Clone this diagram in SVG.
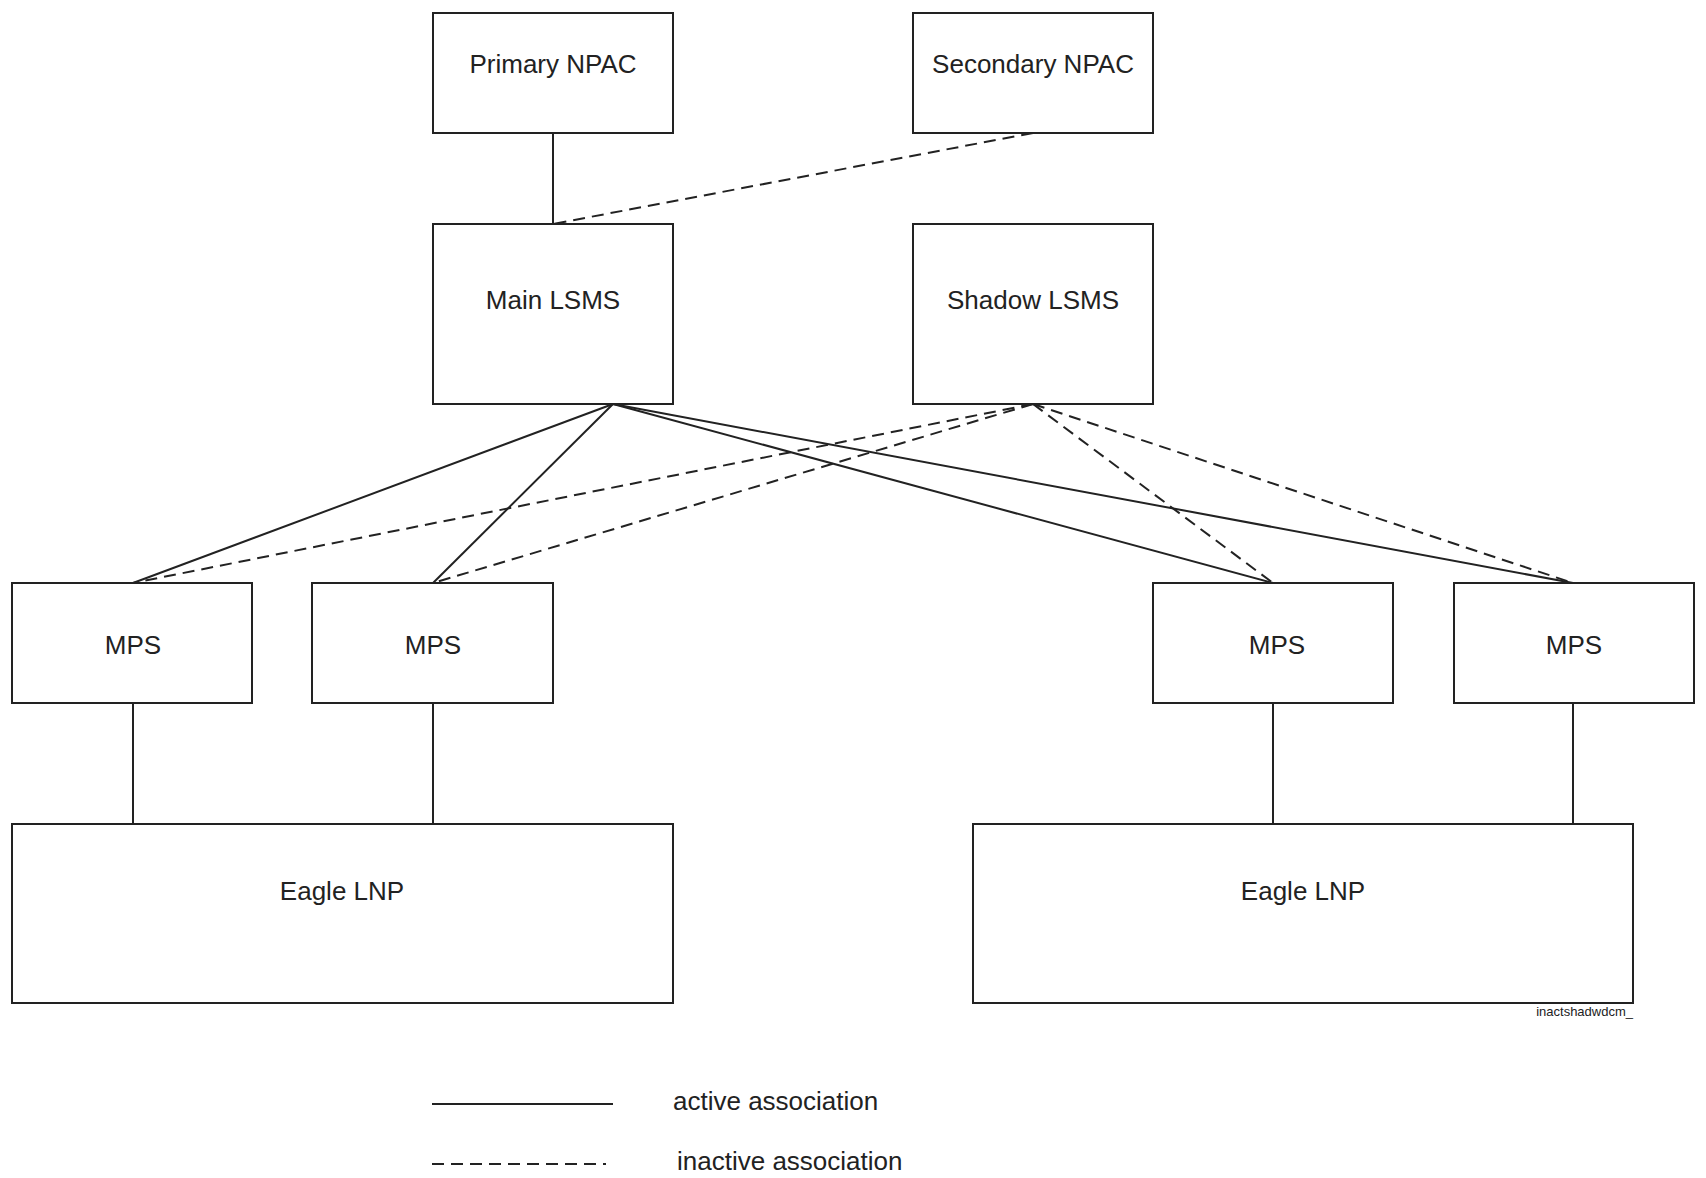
<svg xmlns="http://www.w3.org/2000/svg" width="1706" height="1178" viewBox="0 0 1706 1178">
<style>
rect{fill:#fff;stroke:#222;stroke-width:2}
text{font-family:"Liberation Sans",Arial,sans-serif;font-size:26px;fill:#222;text-anchor:middle;dominant-baseline:central}
.a{stroke:#222;stroke-width:2;fill:none}
.i{stroke:#222;stroke-width:2;fill:none;stroke-dasharray:12,7}
</style>
<rect width="1706" height="1178" style="fill:#fff;stroke:none"/>
<g id="connectors">
<line class="a" x1="553" y1="133" x2="553" y2="224"/>
<line class="i" x1="1033" y1="133" x2="553" y2="224"/>
<line class="a" x1="613" y1="404" x2="133" y2="583"/>
<line class="a" x1="613" y1="404" x2="433" y2="583"/>
<line class="a" x1="613" y1="404" x2="1273" y2="583"/>
<line class="a" x1="613" y1="404" x2="1573" y2="583"/>
<line class="i" x1="1033" y1="404" x2="133" y2="583"/>
<line class="i" x1="1033" y1="404" x2="433" y2="583"/>
<line class="i" x1="1033" y1="404" x2="1273" y2="583"/>
<line class="i" x1="1033" y1="404" x2="1573" y2="583"/>
<line class="a" x1="133" y1="703" x2="133" y2="824"/>
<line class="a" x1="433" y1="703" x2="433" y2="824"/>
<line class="a" x1="1273" y1="703" x2="1273" y2="824"/>
<line class="a" x1="1573" y1="703" x2="1573" y2="824"/>
</g>
<g id="primary"><rect x="433" y="13" width="240" height="120"/><text x="553" y="64">Primary NPAC</text></g>
<g id="secondary"><rect x="913" y="13" width="240" height="120"/><text x="1033" y="64">Secondary NPAC</text></g>
<g id="main"><rect x="433" y="224" width="240" height="180"/><text x="553" y="300">Main LSMS</text></g>
<g id="shadow"><rect x="913" y="224" width="240" height="180"/><text x="1033" y="300">Shadow LSMS</text></g>
<g id="mps1"><rect x="12" y="583" width="240" height="120"/><text x="133" y="645">MPS</text></g>
<g id="mps2"><rect x="312" y="583" width="241" height="120"/><text x="433" y="645">MPS</text></g>
<g id="mps3"><rect x="1153" y="583" width="240" height="120"/><text x="1277" y="645">MPS</text></g>
<g id="mps4"><rect x="1454" y="583" width="240" height="120"/><text x="1574" y="645">MPS</text></g>
<g id="eagle1"><rect x="12" y="824" width="661" height="179"/><text x="342" y="891">Eagle LNP</text></g>
<g id="eagle2"><rect x="973" y="824" width="660" height="179"/><text x="1303" y="891">Eagle LNP</text></g>
<text x="1633" y="1011" style="font-size:13px;text-anchor:end">inactshadwdcm_</text>
<g id="legend">
<line class="a" x1="432" y1="1104" x2="613" y2="1104"/>
<text x="673" y="1101" style="text-anchor:start">active association</text>
<line class="i" x1="432" y1="1164" x2="606" y2="1164"/>
<text x="677" y="1161" style="text-anchor:start">inactive association</text>
</g>
</svg>
